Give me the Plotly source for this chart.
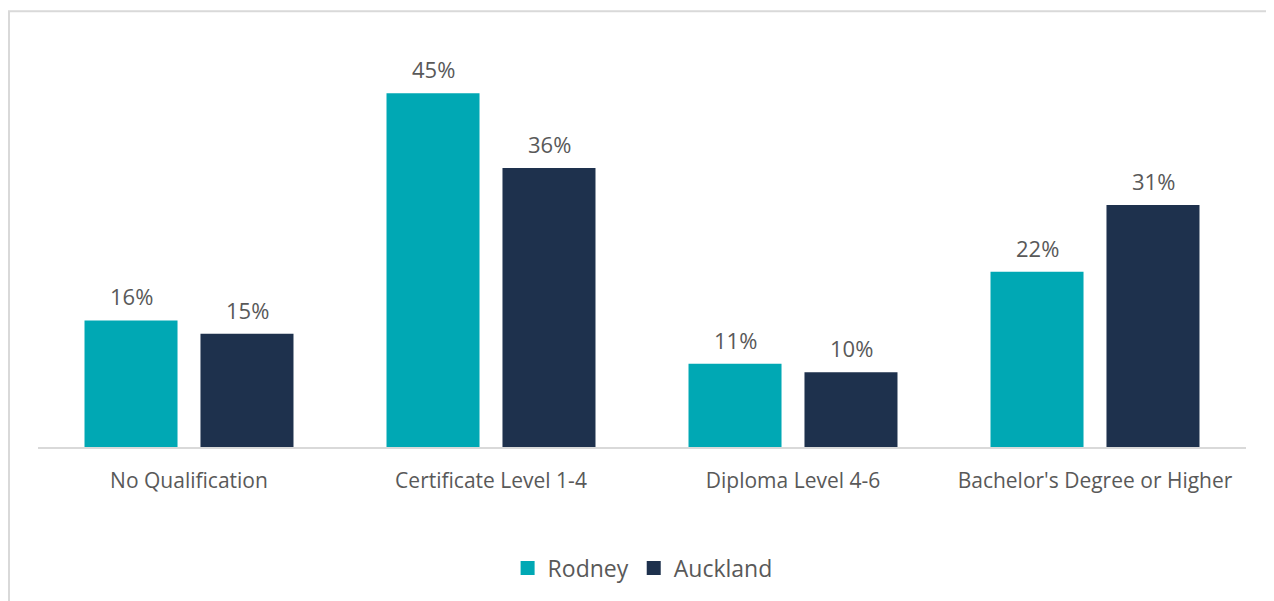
import plotly.graph_objects as go

categories = ["No Qualification", "Certificate Level 1-4", "Diploma Level 4-6", "Bachelor's Degree or Higher"]
rodney_values = [16.1, 45.0, 10.6, 22.3]
auckland_values = [14.4, 35.5, 9.5, 30.8]
rodney_labels = ["16%", "45%", "11%", "22%"]
auckland_labels = ["15%", "36%", "10%", "31%"]

TEAL = "#00A8B4"
NAVY = "#1E314D"
TXT = "#595959"
FONT = "Open Sans"

fig = go.Figure()
fig.add_trace(go.Bar(name="Rodney", x=categories, y=rodney_values, marker_color=TEAL,
                     marker_line_width=0, hoverinfo="skip", showlegend=False))
fig.add_trace(go.Bar(name="Auckland", x=categories, y=auckland_values, marker_color=NAVY,
                     marker_line_width=0, hoverinfo="skip", showlegend=False))
# legend entries with larger square swatches
for name, col in [("Rodney", TEAL), ("Auckland", NAVY)]:
    fig.add_trace(go.Scatter(name=name, x=[None], y=[None], mode="markers",
                             marker=dict(symbol="square", size=14, color=col), showlegend=True))

for vals, labs, shift in [(rodney_values, rodney_labels, -58), (auckland_values, auckland_labels, 58)]:
    for c, v, t in zip(categories, vals, labs):
        fig.add_annotation(x=c, y=v, text=t, showarrow=False, xshift=shift, yshift=7,
                           yanchor="bottom", font=dict(family=FONT, size=22, color=TXT))

fig.add_shape(type="rect", xref="paper", yref="paper", x0=-0.024, x1=1.1, y0=-0.5, y1=1.109,
              line=dict(color="#D9D9D9", width=2), fillcolor="rgba(0,0,0,0)", layer="below")

fig.update_layout(
    width=1266, height=593,
    margin=dict(l=30, r=28, t=46, b=149),
    paper_bgcolor="white", plot_bgcolor="white",
    barmode="group", bargap=0.232, bargroupgap=0.198,
    font=dict(family=FONT, size=21, color=TXT),
    showlegend=True,
    legend=dict(orientation="h", x=0.5005, xanchor="center", y=-0.2535, yanchor="top",
                font=dict(family=FONT, size=23, color=TXT), itemwidth=30, traceorder="normal"),
    xaxis=dict(showline=True, linecolor="#D9D9D9", linewidth=2, ticks="", showgrid=False,
               tickfont=dict(family=FONT, size=21, color=TXT), ticklabelstandoff=14),
    yaxis=dict(visible=False, range=[0, 50], showgrid=False, zeroline=False),
)

fig.write_html("out.html")
